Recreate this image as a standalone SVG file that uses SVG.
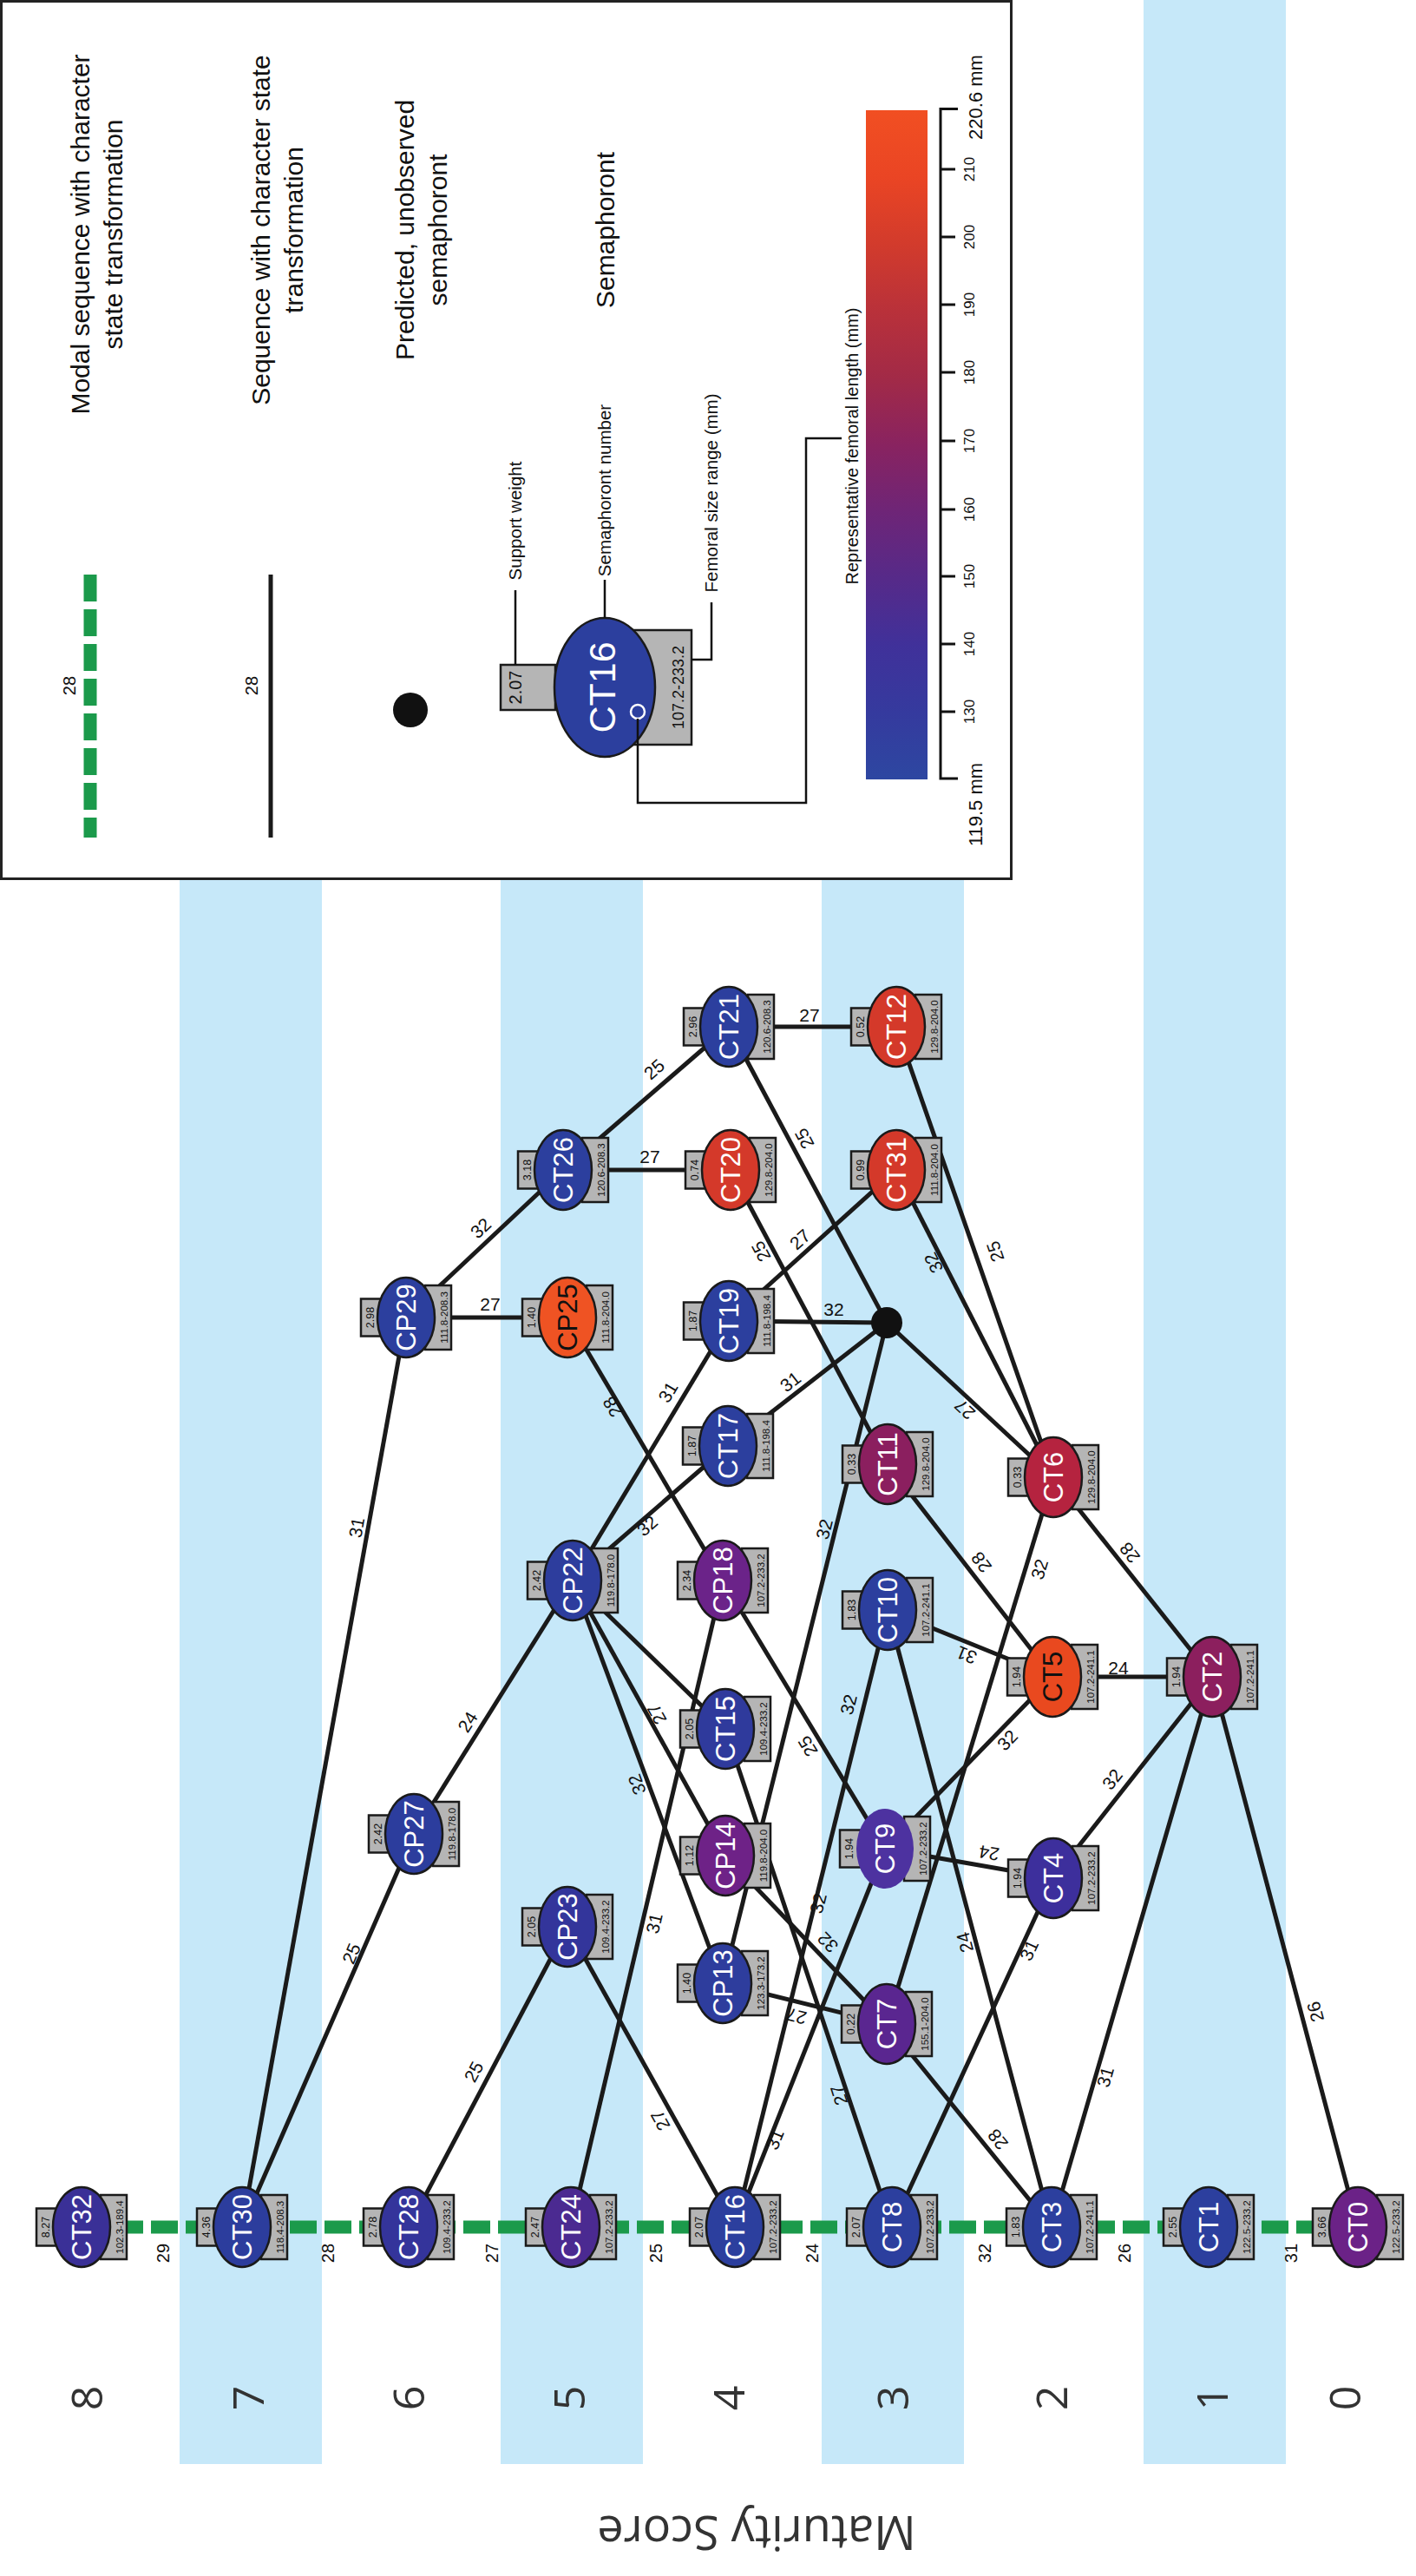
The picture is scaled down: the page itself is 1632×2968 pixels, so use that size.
<svg xmlns="http://www.w3.org/2000/svg" width="1632" height="2968" viewBox="0 0 1632 2968">
<defs>
<style>
text{font-family:"Liberation Sans",Arial,sans-serif;text-anchor:middle}
.band{fill:#c6e8f9}
.edge{stroke:#1a1a1a;stroke-width:5;fill:none}
.modal{stroke:#1b9a4b;stroke-width:15;stroke-dasharray:31 9;fill:none}
.el{font-size:21px;fill:#111}
.ml{font-size:20px;fill:#111}
.node rect{fill:#b5b5b5;stroke:#1a1a1a;stroke-width:2.5}
.node ellipse{stroke:#1a1a1a;stroke-width:2.5}
.lbl{font-size:31px;fill:#fff}
.dark{fill:#111}
.sw{font-size:12.5px;fill:#111}
.fr{font-size:11.5px;fill:#111}
.score{font-family:"Open Sans",sans-serif;font-size:50px;fill:#333}
.leg{font-size:30px;fill:#111}
.call{font-size:20.5px;fill:#111}
.tick{font-size:17px;fill:#111}
</style>
<linearGradient id="cbar" x1="0" y1="1" x2="0" y2="0">
<stop offset="0" stop-color="#2d47a1"/>
<stop offset="0.1" stop-color="#353a9e"/>
<stop offset="0.2" stop-color="#40319a"/>
<stop offset="0.3" stop-color="#562a89"/>
<stop offset="0.4" stop-color="#6e2577"/>
<stop offset="0.5" stop-color="#892360"/>
<stop offset="0.6" stop-color="#a22a47"/>
<stop offset="0.7" stop-color="#b9313a"/>
<stop offset="0.8" stop-color="#d23b2c"/>
<stop offset="0.9" stop-color="#ea4524"/>
<stop offset="1" stop-color="#f14f22"/>
</linearGradient>
</defs>
<rect width="1632" height="2968" fill="#fff"/>
<g id="bands">
<rect class="band" x="207" y="1013" width="164" height="1826"/>
<rect class="band" x="577" y="1013" width="164" height="1826"/>
<rect class="band" x="947" y="1013" width="164" height="1826"/>
<rect class="band" x="1318" y="0" width="164" height="2839"/>
</g>
<g id="legend">
<rect x="1.5" y="1.5" width="1164" height="1011" fill="#fff" stroke="#222" stroke-width="3"/>
<line class="modal" x1="104" y1="662" x2="104" y2="965"/>
<text class="ml" transform="translate(80,790) rotate(-90)" dy="0.35em">28</text>
<text class="leg" transform="translate(92,270) rotate(-90)" dy="0.35em">Modal sequence with character</text>
<text class="leg" transform="translate(130,270) rotate(-90)" dy="0.35em">state transformation</text>
<line class="edge" x1="312" y1="662" x2="312" y2="965"/>
<text class="ml" transform="translate(290,790) rotate(-90)" dy="0.35em">28</text>
<text class="leg" transform="translate(300,265) rotate(-90)" dy="0.35em">Sequence with character state</text>
<text class="leg" transform="translate(338,265) rotate(-90)" dy="0.35em">transformation</text>
<circle cx="473" cy="818" r="20" fill="#111"/>
<text class="leg" transform="translate(466,265) rotate(-90)" dy="0.35em">Predicted, unobserved</text>
<text class="leg" transform="translate(504,265) rotate(-90)" dy="0.35em">semaphoront</text>
<text class="leg" transform="translate(697,265) rotate(-90)" dy="0.35em">Semaphoront</text>
<g id="legend-node">
<rect x="577" y="766" width="63" height="52" fill="#b5b5b5" stroke="#1a1a1a" stroke-width="2.5"/>
<rect x="730" y="726" width="67" height="132" fill="#b5b5b5" stroke="#1a1a1a" stroke-width="2.5"/>
<ellipse cx="697" cy="792" rx="58" ry="80" fill="#2c3f9e" stroke="#1a1a1a" stroke-width="2.5"/>
<text transform="translate(694,792) rotate(-90)" dy="0.35em" style="font-size:43px;fill:#fff">CT16</text>
<text transform="translate(594,792) rotate(-90)" dy="0.35em" style="font-size:20px;fill:#111">2.07</text>
<text transform="translate(782,792) rotate(-90)" dy="0.35em" style="font-size:18px;fill:#111">107.2-233.2</text>
<circle cx="735" cy="820" r="8" fill="none" stroke="#fff" stroke-width="2.5"/>
</g>
<path d="M594,766 V680" fill="none" stroke="#111" stroke-width="2.5"/>
<text class="call" transform="translate(594,600) rotate(-90)" dy="0.35em">Support weight</text>
<path d="M697,712 V668" fill="none" stroke="#111" stroke-width="2.5"/>
<text class="call" transform="translate(697,565) rotate(-90)" dy="0.35em">Semaphoront number</text>
<path d="M797,760 H820 V694" fill="none" stroke="#111" stroke-width="2.5"/>
<text class="call" transform="translate(820,568) rotate(-90)" dy="0.35em">Femoral size range (mm)</text>
<path d="M735,828 V925 H929 V505 H970" fill="none" stroke="#111" stroke-width="2.5"/>
<text transform="translate(982,514) rotate(-90)" dy="0.35em" style="font-size:20px;fill:#111">Representative femoral length (mm)</text>
<rect x="998" y="127" width="71" height="771" fill="url(#cbar)"/>
<path d="M1104,125.5 H1084 V897 H1104" fill="none" stroke="#111" stroke-width="3"/>
<g stroke="#111" stroke-width="3">
<line x1="1084" y1="820" x2="1101" y2="820"/>
<line x1="1084" y1="742" x2="1101" y2="742"/>
<line x1="1084" y1="664" x2="1101" y2="664"/>
<line x1="1084" y1="587" x2="1101" y2="587"/>
<line x1="1084" y1="508" x2="1101" y2="508"/>
<line x1="1084" y1="429" x2="1101" y2="429"/>
<line x1="1084" y1="351" x2="1101" y2="351"/>
<line x1="1084" y1="273" x2="1101" y2="273"/>
<line x1="1084" y1="195" x2="1101" y2="195"/>
</g>
<text class="tick" transform="translate(1117,820) rotate(-90)" dy="0.35em">130</text>
<text class="tick" transform="translate(1117,742) rotate(-90)" dy="0.35em">140</text>
<text class="tick" transform="translate(1117,664) rotate(-90)" dy="0.35em">150</text>
<text class="tick" transform="translate(1117,587) rotate(-90)" dy="0.35em">160</text>
<text class="tick" transform="translate(1117,508) rotate(-90)" dy="0.35em">170</text>
<text class="tick" transform="translate(1117,429) rotate(-90)" dy="0.35em">180</text>
<text class="tick" transform="translate(1117,351) rotate(-90)" dy="0.35em">190</text>
<text class="tick" transform="translate(1117,273) rotate(-90)" dy="0.35em">200</text>
<text class="tick" transform="translate(1117,195) rotate(-90)" dy="0.35em">210</text>
<text transform="translate(1124,112) rotate(-90)" dy="0.35em" style="font-size:22px;fill:#111">220.6 mm</text>
<text transform="translate(1124,927) rotate(-90)" dy="0.35em" style="font-size:22px;fill:#111">119.5 mm</text>
</g>
<g id="connectors">
<line class="modal" x1="94" y1="2566" x2="1565" y2="2566"/>
<line class="edge" x1="468" y1="1518" x2="279" y2="2566"/>
<line class="edge" x1="468" y1="1518" x2="649" y2="1348"/>
<line class="edge" x1="468" y1="1518" x2="654" y2="1518"/>
<line class="edge" x1="649" y1="1348" x2="840" y2="1183"/>
<line class="edge" x1="649" y1="1348" x2="842" y2="1348"/>
<line class="edge" x1="840" y1="1183" x2="1033" y2="1183"/>
<line class="edge" x1="840" y1="1183" x2="1022" y2="1524"/>
<line class="edge" x1="842" y1="1348" x2="1023" y2="1687"/>
<line class="edge" x1="1033" y1="1348" x2="840" y2="1522"/>
<line class="edge" x1="840" y1="1522" x2="1022" y2="1524"/>
<line class="edge" x1="839" y1="1666" x2="1022" y2="1524"/>
<line class="edge" x1="1022" y1="1524" x2="833" y2="2285"/>
<line class="edge" x1="1022" y1="1524" x2="1214" y2="1702"/>
<line class="edge" x1="1033" y1="1183" x2="1214" y2="1702"/>
<line class="edge" x1="1033" y1="1348" x2="1214" y2="1702"/>
<line class="edge" x1="654" y1="1518" x2="833" y2="1821"/>
<line class="edge" x1="840" y1="1522" x2="660" y2="1821"/>
<line class="edge" x1="839" y1="1666" x2="660" y2="1821"/>
<line class="edge" x1="660" y1="1821" x2="477" y2="2113"/>
<line class="edge" x1="477" y1="2113" x2="279" y2="2566"/>
<line class="edge" x1="654" y1="2220" x2="471" y2="2566"/>
<line class="edge" x1="654" y1="2220" x2="847" y2="2566"/>
<line class="edge" x1="833" y1="1821" x2="658" y2="2566"/>
<line class="edge" x1="660" y1="1821" x2="836" y2="1992"/>
<line class="edge" x1="660" y1="1821" x2="836" y2="2138"/>
<line class="edge" x1="660" y1="1821" x2="833" y2="2285"/>
<line class="edge" x1="833" y1="1821" x2="1020" y2="2130"/>
<line class="edge" x1="1023" y1="1855" x2="847" y2="2566"/>
<line class="edge" x1="1020" y1="2130" x2="847" y2="2566"/>
<line class="edge" x1="1023" y1="1855" x2="1213" y2="1932"/>
<line class="edge" x1="1023" y1="1855" x2="1212" y2="2566"/>
<line class="edge" x1="1020" y1="2130" x2="1213" y2="1932"/>
<line class="edge" x1="1020" y1="2130" x2="1214" y2="2164"/>
<line class="edge" x1="1214" y1="1702" x2="1022" y2="2332"/>
<line class="edge" x1="1022" y1="2332" x2="1212" y2="2566"/>
<line class="edge" x1="833" y1="2285" x2="1022" y2="2332"/>
<line class="edge" x1="836" y1="2138" x2="1022" y2="2332"/>
<line class="edge" x1="836" y1="1992" x2="1028" y2="2566"/>
<line class="edge" x1="1028" y1="2566" x2="1214" y2="2164"/>
<line class="edge" x1="1213" y1="1932" x2="1397" y2="1932"/>
<line class="edge" x1="1214" y1="1702" x2="1397" y2="1932"/>
<line class="edge" x1="1397" y1="1932" x2="1214" y2="2164"/>
<line class="edge" x1="1397" y1="1932" x2="1212" y2="2566"/>
<line class="edge" x1="1397" y1="1932" x2="1565" y2="2566"/>
<line class="edge" x1="1023" y1="1687" x2="1213" y2="1932"/>
<circle id="predicted" cx="1022" cy="1524" r="18" fill="#111"/>
<g id="edge-labels">
<text class="el" transform="translate(411,1760) rotate(-80)" dy="0.35em">31</text>
<text class="el" transform="translate(554,1415) rotate(-43)" dy="0.35em">32</text>
<text class="el" transform="translate(565,1503)" dy="0.35em">27</text>
<text class="el" transform="translate(754,1232) rotate(-41)" dy="0.35em">25</text>
<text class="el" transform="translate(749,1333)" dy="0.35em">27</text>
<text class="el" transform="translate(933,1170)" dy="0.35em">27</text>
<text class="el" transform="translate(927,1312) rotate(-118)" dy="0.35em">25</text>
<text class="el" transform="translate(877,1442) rotate(-118)" dy="0.35em">25</text>
<text class="el" transform="translate(922,1428) rotate(-42)" dy="0.35em">27</text>
<text class="el" transform="translate(961,1509)" dy="0.35em">32</text>
<text class="el" transform="translate(911,1592) rotate(-38)" dy="0.35em">31</text>
<text class="el" transform="translate(950,1762) rotate(-76)" dy="0.35em">32</text>
<text class="el" transform="translate(1112,1624) rotate(-137)" dy="0.35em">27</text>
<text class="el" transform="translate(1147,1442) rotate(-109)" dy="0.35em">25</text>
<text class="el" transform="translate(1076,1455) rotate(-117)" dy="0.35em">32</text>
<text class="el" transform="translate(706,1621) rotate(-121)" dy="0.35em">28</text>
<text class="el" transform="translate(770,1604) rotate(-59)" dy="0.35em">31</text>
<text class="el" transform="translate(746,1758) rotate(-41)" dy="0.35em">32</text>
<text class="el" transform="translate(539,1984) rotate(-58)" dy="0.35em">24</text>
<text class="el" transform="translate(405,2251) rotate(-67)" dy="0.35em">25</text>
<text class="el" transform="translate(546,2387) rotate(-62)" dy="0.35em">25</text>
<text class="el" transform="translate(761,2443) rotate(-119)" dy="0.35em">27</text>
<text class="el" transform="translate(754,2216) rotate(-77)" dy="0.35em">31</text>
<text class="el" transform="translate(757,1975) rotate(-119)" dy="0.35em">27</text>
<text class="el" transform="translate(734,2056) rotate(-110)" dy="0.35em">32</text>
<text class="el" transform="translate(931,2012) rotate(-121)" dy="0.35em">25</text>
<text class="el" transform="translate(978,1964) rotate(-76)" dy="0.35em">32</text>
<text class="el" transform="translate(943,2193) rotate(-76)" dy="0.35em">32</text>
<text class="el" transform="translate(893,2465) rotate(-68)" dy="0.35em">31</text>
<text class="el" transform="translate(1114,1907) rotate(-158)" dy="0.35em">31</text>
<text class="el" transform="translate(1112,2238) rotate(-105)" dy="0.35em">24</text>
<text class="el" transform="translate(1161,2005) rotate(-46)" dy="0.35em">32</text>
<text class="el" transform="translate(1140,2135) rotate(-170)" dy="0.35em">24</text>
<text class="el" transform="translate(1198,1808) rotate(-73)" dy="0.35em">32</text>
<text class="el" transform="translate(1150,2465) rotate(-129)" dy="0.35em">28</text>
<text class="el" transform="translate(918,2323) rotate(-166)" dy="0.35em">27</text>
<text class="el" transform="translate(954,2238) rotate(-134)" dy="0.35em">32</text>
<text class="el" transform="translate(967,2414) rotate(-108)" dy="0.35em">27</text>
<text class="el" transform="translate(1186,2247) rotate(-65)" dy="0.35em">31</text>
<text class="el" transform="translate(1289,1922)" dy="0.35em">24</text>
<text class="el" transform="translate(1302,1789) rotate(-128)" dy="0.35em">28</text>
<text class="el" transform="translate(1282,2050) rotate(-52)" dy="0.35em">32</text>
<text class="el" transform="translate(1274,2393) rotate(-74)" dy="0.35em">31</text>
<text class="el" transform="translate(1516,2318) rotate(-105)" dy="0.35em">26</text>
<text class="el" transform="translate(1131,1800) rotate(-127)" dy="0.35em">28</text>
<text class="ml" transform="translate(188,2596) rotate(-90)" dy="0.35em">29</text>
<text class="ml" transform="translate(378,2596) rotate(-90)" dy="0.35em">28</text>
<text class="ml" transform="translate(567,2596) rotate(-90)" dy="0.35em">27</text>
<text class="ml" transform="translate(756,2596) rotate(-90)" dy="0.35em">25</text>
<text class="ml" transform="translate(936,2596) rotate(-90)" dy="0.35em">24</text>
<text class="ml" transform="translate(1135,2596) rotate(-90)" dy="0.35em">32</text>
<text class="ml" transform="translate(1296,2596) rotate(-90)" dy="0.35em">26</text>
<text class="ml" transform="translate(1488,2596) rotate(-90)" dy="0.35em">31</text>
</g>
</g>
<g id="nodes">
<g id="CT32" class="node" transform="translate(94,2566)"><rect x="-52" y="-21.5" width="24" height="43"/><rect x="22" y="-37" width="30" height="74"/><ellipse rx="33" ry="46" fill="#3a3097"/><text class="lbl" transform="rotate(-90)" y="11">CT32</text><text class="sw" transform="rotate(-90)" y="-37">8.27</text><text class="fr" transform="rotate(-90)" y="48">102.3-189.4</text></g>
<g id="CT30" class="node" transform="translate(279,2566)"><rect x="-52" y="-21.5" width="24" height="43"/><rect x="22" y="-37" width="30" height="74"/><ellipse rx="33" ry="46" fill="#2c3d9d"/><text class="lbl" transform="rotate(-90)" y="11">CT30</text><text class="sw" transform="rotate(-90)" y="-37">4.36</text><text class="fr" transform="rotate(-90)" y="48">118.4-208.3</text></g>
<g id="CT28" class="node" transform="translate(471,2566)"><rect x="-52" y="-21.5" width="24" height="43"/><rect x="22" y="-37" width="30" height="74"/><ellipse rx="33" ry="46" fill="#34349b"/><text class="lbl" transform="rotate(-90)" y="11">CT28</text><text class="sw" transform="rotate(-90)" y="-37">2.78</text><text class="fr" transform="rotate(-90)" y="48">109.4-233.2</text></g>
<g id="CT24" class="node" transform="translate(658,2566)"><rect x="-52" y="-21.5" width="24" height="43"/><rect x="22" y="-37" width="30" height="74"/><ellipse rx="33" ry="46" fill="#4b2a91"/><text class="lbl" transform="rotate(-90)" y="11">CT24</text><text class="sw" transform="rotate(-90)" y="-37">2.47</text><text class="fr" transform="rotate(-90)" y="48">107.2-233.2</text></g>
<g id="CT16" class="node" transform="translate(847,2566)"><rect x="-52" y="-21.5" width="24" height="43"/><rect x="22" y="-37" width="30" height="74"/><ellipse rx="33" ry="46" fill="#2c3f9e"/><text class="lbl" transform="rotate(-90)" y="11">CT16</text><text class="sw" transform="rotate(-90)" y="-37">2.07</text><text class="fr" transform="rotate(-90)" y="48">107.2-233.2</text></g>
<g id="CT8" class="node" transform="translate(1028,2566)"><rect x="-52" y="-21.5" width="24" height="43"/><rect x="22" y="-37" width="30" height="74"/><ellipse rx="33" ry="46" fill="#2c3f9e"/><text class="lbl" transform="rotate(-90)" y="11">CT8</text><text class="sw" transform="rotate(-90)" y="-37">2.07</text><text class="fr" transform="rotate(-90)" y="48">107.2-233.2</text></g>
<g id="CT3" class="node" transform="translate(1212,2566)"><rect x="-52" y="-21.5" width="24" height="43"/><rect x="22" y="-37" width="30" height="74"/><ellipse rx="33" ry="46" fill="#2c3f9e"/><text class="lbl" transform="rotate(-90)" y="11">CT3</text><text class="sw" transform="rotate(-90)" y="-37">1.83</text><text class="fr" transform="rotate(-90)" y="48">107.2-241.1</text></g>
<g id="CT1" class="node" transform="translate(1393,2566)"><rect x="-52" y="-21.5" width="24" height="43"/><rect x="22" y="-37" width="30" height="74"/><ellipse rx="33" ry="46" fill="#2c3f9e"/><text class="lbl" transform="rotate(-90)" y="11">CT1</text><text class="sw" transform="rotate(-90)" y="-37">2.55</text><text class="fr" transform="rotate(-90)" y="48">122.5-233.2</text></g>
<g id="CT0" class="node" transform="translate(1565,2566)"><rect x="-52" y="-21.5" width="24" height="43"/><rect x="22" y="-37" width="30" height="74"/><ellipse rx="33" ry="46" fill="#6b2287"/><text class="lbl" transform="rotate(-90)" y="11">CT0</text><text class="sw" transform="rotate(-90)" y="-37">3.66</text><text class="fr" transform="rotate(-90)" y="48">122.5-233.2</text></g>
<g id="CP29" class="node" transform="translate(468,1518)"><rect x="-52" y="-21.5" width="24" height="43"/><rect x="22" y="-37" width="30" height="74"/><ellipse rx="33" ry="46" fill="#2c3f9e"/><text class="lbl" transform="rotate(-90)" y="11">CP29</text><text class="sw" transform="rotate(-90)" y="-37">2.98</text><text class="fr" transform="rotate(-90)" y="48">111.8-208.3</text></g>
<g id="CT26" class="node" transform="translate(649,1348)"><rect x="-52" y="-21.5" width="24" height="43"/><rect x="22" y="-37" width="30" height="74"/><ellipse rx="33" ry="46" fill="#2c3f9e"/><text class="lbl" transform="rotate(-90)" y="11">CT26</text><text class="sw" transform="rotate(-90)" y="-37">3.18</text><text class="fr" transform="rotate(-90)" y="48">120.6-208.3</text></g>
<g id="CT21" class="node" transform="translate(840,1183)"><rect x="-52" y="-21.5" width="24" height="43"/><rect x="22" y="-37" width="30" height="74"/><ellipse rx="33" ry="46" fill="#2c3f9e"/><text class="lbl" transform="rotate(-90)" y="11">CT21</text><text class="sw" transform="rotate(-90)" y="-37">2.96</text><text class="fr" transform="rotate(-90)" y="48">120.6-208.3</text></g>
<g id="CT12" class="node" transform="translate(1033,1183)"><rect x="-52" y="-21.5" width="24" height="43"/><rect x="22" y="-37" width="30" height="74"/><ellipse rx="33" ry="46" fill="#d4392a"/><text class="lbl" transform="rotate(-90)" y="11">CT12</text><text class="sw" transform="rotate(-90)" y="-37">0.52</text><text class="fr" transform="rotate(-90)" y="48">129.8-204.0</text></g>
<g id="CT20" class="node" transform="translate(842,1348)"><rect x="-52" y="-21.5" width="24" height="43"/><rect x="22" y="-37" width="30" height="74"/><ellipse rx="33" ry="46" fill="#d4392a"/><text class="lbl" transform="rotate(-90)" y="11">CT20</text><text class="sw" transform="rotate(-90)" y="-37">0.74</text><text class="fr" transform="rotate(-90)" y="48">129.8-204.0</text></g>
<g id="CT31" class="node" transform="translate(1033,1348)"><rect x="-52" y="-21.5" width="24" height="43"/><rect x="22" y="-37" width="30" height="74"/><ellipse rx="33" ry="46" fill="#d4392a"/><text class="lbl" transform="rotate(-90)" y="11">CT31</text><text class="sw" transform="rotate(-90)" y="-37">0.99</text><text class="fr" transform="rotate(-90)" y="48">111.8-204.0</text></g>
<g id="CP25" class="node" transform="translate(654,1518)"><rect x="-52" y="-21.5" width="24" height="43"/><rect x="22" y="-37" width="30" height="74"/><ellipse rx="33" ry="46" fill="#ef5323"/><text class="lbl dark" transform="rotate(-90)" y="11">CP25</text><text class="sw" transform="rotate(-90)" y="-37">1.40</text><text class="fr" transform="rotate(-90)" y="48">111.8-204.0</text></g>
<g id="CT19" class="node" transform="translate(840,1522)"><rect x="-52" y="-21.5" width="24" height="43"/><rect x="22" y="-37" width="30" height="74"/><ellipse rx="33" ry="46" fill="#2c3f9e"/><text class="lbl" transform="rotate(-90)" y="11">CT19</text><text class="sw" transform="rotate(-90)" y="-37">1.87</text><text class="fr" transform="rotate(-90)" y="48">111.8-198.4</text></g>
<g id="CT17" class="node" transform="translate(839,1666)"><rect x="-52" y="-21.5" width="24" height="43"/><rect x="22" y="-37" width="30" height="74"/><ellipse rx="33" ry="46" fill="#2c3f9e"/><text class="lbl" transform="rotate(-90)" y="11">CT17</text><text class="sw" transform="rotate(-90)" y="-37">1.87</text><text class="fr" transform="rotate(-90)" y="48">111.8-198.4</text></g>
<g id="CT11" class="node" transform="translate(1023,1687)"><rect x="-52" y="-21.5" width="24" height="43"/><rect x="22" y="-37" width="30" height="74"/><ellipse rx="33" ry="46" fill="#8b1f5f"/><text class="lbl" transform="rotate(-90)" y="11">CT11</text><text class="sw" transform="rotate(-90)" y="-37">0.33</text><text class="fr" transform="rotate(-90)" y="48">129.8-204.0</text></g>
<g id="CT6" class="node" transform="translate(1214,1702)"><rect x="-52" y="-21.5" width="24" height="43"/><rect x="22" y="-37" width="30" height="74"/><ellipse rx="33" ry="46" fill="#b5233f"/><text class="lbl" transform="rotate(-90)" y="11">CT6</text><text class="sw" transform="rotate(-90)" y="-37">0.33</text><text class="fr" transform="rotate(-90)" y="48">129.8-204.0</text></g>
<g id="CP22" class="node" transform="translate(660,1821)"><rect x="-52" y="-21.5" width="24" height="43"/><rect x="22" y="-37" width="30" height="74"/><ellipse rx="33" ry="46" fill="#2d3d9d"/><text class="lbl" transform="rotate(-90)" y="11">CP22</text><text class="sw" transform="rotate(-90)" y="-37">2.42</text><text class="fr" transform="rotate(-90)" y="48">119.8-178.0</text></g>
<g id="CP18" class="node" transform="translate(833,1821)"><rect x="-52" y="-21.5" width="24" height="43"/><rect x="22" y="-37" width="30" height="74"/><ellipse rx="33" ry="46" fill="#6b2389"/><text class="lbl" transform="rotate(-90)" y="11">CP18</text><text class="sw" transform="rotate(-90)" y="-37">2.34</text><text class="fr" transform="rotate(-90)" y="48">107.2-233.2</text></g>
<g id="CT10" class="node" transform="translate(1023,1855)"><rect x="-52" y="-21.5" width="24" height="43"/><rect x="22" y="-37" width="30" height="74"/><ellipse rx="33" ry="46" fill="#2c3f9e"/><text class="lbl" transform="rotate(-90)" y="11">CT10</text><text class="sw" transform="rotate(-90)" y="-37">1.83</text><text class="fr" transform="rotate(-90)" y="48">107.2-241.1</text></g>
<g id="CT15" class="node" transform="translate(836,1992)"><rect x="-52" y="-21.5" width="24" height="43"/><rect x="22" y="-37" width="30" height="74"/><ellipse rx="33" ry="46" fill="#2f3a9c"/><text class="lbl" transform="rotate(-90)" y="11">CT15</text><text class="sw" transform="rotate(-90)" y="-37">2.05</text><text class="fr" transform="rotate(-90)" y="48">109.4-233.2</text></g>
<g id="CT5" class="node" transform="translate(1213,1932)"><rect x="-52" y="-21.5" width="24" height="43"/><rect x="22" y="-37" width="30" height="74"/><ellipse rx="33" ry="46" fill="#e9491f"/><text class="lbl dark" transform="rotate(-90)" y="11">CT5</text><text class="sw" transform="rotate(-90)" y="-37">1.94</text><text class="fr" transform="rotate(-90)" y="48">107.2-241.1</text></g>
<g id="CT2" class="node" transform="translate(1397,1932)"><rect x="-52" y="-21.5" width="24" height="43"/><rect x="22" y="-37" width="30" height="74"/><ellipse rx="33" ry="46" fill="#8c1f5e"/><text class="lbl" transform="rotate(-90)" y="11">CT2</text><text class="sw" transform="rotate(-90)" y="-37">1.94</text><text class="fr" transform="rotate(-90)" y="48">107.2-241.1</text></g>
<g id="CP27" class="node" transform="translate(477,2113)"><rect x="-52" y="-21.5" width="24" height="43"/><rect x="22" y="-37" width="30" height="74"/><ellipse rx="33" ry="46" fill="#2c3d9d"/><text class="lbl" transform="rotate(-90)" y="11">CP27</text><text class="sw" transform="rotate(-90)" y="-37">2.42</text><text class="fr" transform="rotate(-90)" y="48">119.8-178.0</text></g>
<g id="CP14" class="node" transform="translate(836,2138)"><rect x="-52" y="-21.5" width="24" height="43"/><rect x="22" y="-37" width="30" height="74"/><ellipse rx="33" ry="46" fill="#6e2287"/><text class="lbl" transform="rotate(-90)" y="11">CP14</text><text class="sw" transform="rotate(-90)" y="-37">1.12</text><text class="fr" transform="rotate(-90)" y="48">119.8-204.0</text></g>
<g id="CT9" class="node" transform="translate(1020,2130)"><rect x="-52" y="-21.5" width="24" height="43"/><rect x="22" y="-37" width="30" height="74"/><ellipse rx="33" ry="46" fill="#4d32a0" style="stroke:none"/><text class="lbl" transform="rotate(-90)" y="11">CT9</text><text class="sw" transform="rotate(-90)" y="-37">1.94</text><text class="fr" transform="rotate(-90)" y="48">107.2-233.2</text></g>
<g id="CT4" class="node" transform="translate(1214,2164)"><rect x="-52" y="-21.5" width="24" height="43"/><rect x="22" y="-37" width="30" height="74"/><ellipse rx="33" ry="46" fill="#3d2f9c"/><text class="lbl" transform="rotate(-90)" y="11">CT4</text><text class="sw" transform="rotate(-90)" y="-37">1.94</text><text class="fr" transform="rotate(-90)" y="48">107.2-233.2</text></g>
<g id="CP23" class="node" transform="translate(654,2220)"><rect x="-52" y="-21.5" width="24" height="43"/><rect x="22" y="-37" width="30" height="74"/><ellipse rx="33" ry="46" fill="#33359b"/><text class="lbl" transform="rotate(-90)" y="11">CP23</text><text class="sw" transform="rotate(-90)" y="-37">2.05</text><text class="fr" transform="rotate(-90)" y="48">109.4-233.2</text></g>
<g id="CP13" class="node" transform="translate(833,2285)"><rect x="-52" y="-21.5" width="24" height="43"/><rect x="22" y="-37" width="30" height="74"/><ellipse rx="33" ry="46" fill="#2e3d9d"/><text class="lbl" transform="rotate(-90)" y="11">CP13</text><text class="sw" transform="rotate(-90)" y="-37">1.40</text><text class="fr" transform="rotate(-90)" y="48">123.3-173.2</text></g>
<g id="CT7" class="node" transform="translate(1022,2332)"><rect x="-52" y="-21.5" width="24" height="43"/><rect x="22" y="-37" width="30" height="74"/><ellipse rx="33" ry="46" fill="#5a2690"/><text class="lbl" transform="rotate(-90)" y="11">CT7</text><text class="sw" transform="rotate(-90)" y="-37">0.22</text><text class="fr" transform="rotate(-90)" y="48">155.1-204.0</text></g>
</g>
<g id="axis">
<text class="score" transform="translate(100,2763) rotate(-90)" dy="0.35em">8</text>
<text class="score" transform="translate(286,2763) rotate(-90)" dy="0.35em">7</text>
<text class="score" transform="translate(471,2763) rotate(-90)" dy="0.35em">6</text>
<text class="score" transform="translate(656,2763) rotate(-90)" dy="0.35em">5</text>
<text class="score" transform="translate(840,2763) rotate(-90)" dy="0.35em">4</text>
<text class="score" transform="translate(1029,2763) rotate(-90)" dy="0.35em">3</text>
<text class="score" transform="translate(1212,2763) rotate(-90)" dy="0.35em">2</text>
<text class="score" transform="translate(1397,2763) rotate(-90)" dy="0.35em">1</text>
<text class="score" transform="translate(1550,2763) rotate(-90)" dy="0.35em">0</text>
<text transform="translate(872,2918) rotate(180)" dy="0.35em" style="font-family:'Open Sans',sans-serif;font-size:54px;fill:#333">Maturity Score</text>
</g>
</svg>
